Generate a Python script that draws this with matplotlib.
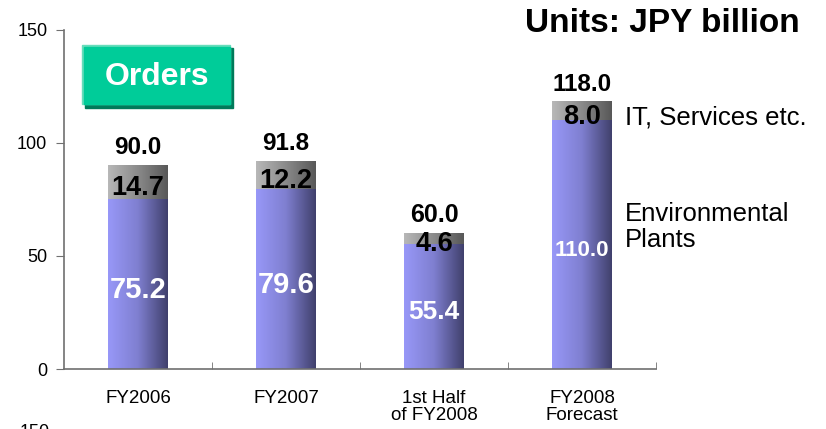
"""Orders chart: stacked bars by segment."""

import matplotlib.pyplot as plt
import numpy as np
from matplotlib.colors import LinearSegmentedColormap
from matplotlib.patches import Rectangle

plt.rcParams["font.family"] = ["Liberation Sans", "DejaVu Sans"]

categories = ["FY2006", "FY2007", "1st Half\nof FY2008", "FY2008\nForecast"]
env_plants = [75.2, 79.6, 55.4, 110.0]
it_services = [14.7, 12.2, 4.6, 8.0]
totals = [90.0, 91.8, 60.0, 118.0]

purple_cmap = LinearSegmentedColormap.from_list("purple", ["#9898f8", "#7f7fd0", "#40406c"])
gray_cmap = LinearSegmentedColormap.from_list("gray", ["#b8b8b8", "#8a8a8a", "#585858"])
gradient = np.linspace(0, 1, 256).reshape(1, -1)


def fill_gradient(axis, bars, cmap):
    """Phu gradient ngang len tung bar."""
    for bar in bars:
        x0, y0 = bar.get_x(), bar.get_y()
        axis.imshow(gradient, cmap=cmap, aspect="auto", interpolation="bilinear",
                    extent=(x0, x0 + bar.get_width(), y0, y0 + bar.get_height()), zorder=2)
        bar.set_visible(False)


figure = plt.figure(figsize=(8.26, 4.29), dpi=100)
axis = figure.add_axes([64 / 826, 60 / 429, 592 / 826, 339 / 429])

x = np.arange(len(categories))
width = 0.405
bottom_bars = axis.bar(x, env_plants, width=width)
top_bars = axis.bar(x, it_services, width=width, bottom=env_plants)
fill_gradient(axis, bottom_bars, purple_cmap)
fill_gradient(axis, top_bars, gray_cmap)

axis.set_xlim(-0.5, len(categories) - 0.5)
axis.set_ylim(0, 150)
axis.set_yticks([0, 50, 100, 150])
axis.set_xticks(x)
axis.set_xticklabels(categories, fontsize=13.5, linespacing=1.05)
axis.set_xticks(np.arange(len(categories)) + 0.5, minor=True)
axis.tick_params(axis="x", which="major", length=0, pad=15)
axis.tick_params(axis="x", which="minor", direction="in", length=5, color="#707070")
axis.tick_params(axis="y", direction="out", length=6, color="#707070", labelsize=13, pad=6)
for side in ("top", "right"):
    axis.spines[side].set_visible(False)
for side in ("left", "bottom"):
    axis.spines[side].set_color("#707070")
    axis.spines[side].set_linewidth(1.2)

inner_size = [21, 21, 19, 16]
total_size = [17.5, 17.5, 18, 17.5]
for i in range(len(categories)):
    axis.annotate(f"{env_plants[i]:.1f}", (x[i], env_plants[i] / 2), xytext=(0, -4),
                  textcoords="offset points", ha="center", va="center",
                  color="white", fontweight="bold", fontsize=inner_size[i], zorder=4)
    axis.annotate(f"{it_services[i]:.1f}", (x[i], env_plants[i] + it_services[i] / 2),
                  xytext=(0, -4), textcoords="offset points", ha="center", va="center",
                  fontweight="bold", fontsize=19.5, zorder=4)
    axis.annotate(f"{totals[i]:.1f}", (x[i], totals[i]), xytext=(0, 13),
                  textcoords="offset points", ha="center", va="center",
                  fontweight="bold", fontsize=total_size[i], zorder=4)

# khung "Orders"
figure.patches.append(Rectangle((85 / 826, 1 - 108 / 429), 148 / 826, 60 / 429,
                                transform=figure.transFigure, color="#007a5a", zorder=1))
figure.patches.append(Rectangle((82 / 826, 1 - 104 / 429), 148 / 826, 59 / 429,
                                transform=figure.transFigure, color="#66ddbb", zorder=2))
figure.patches.append(Rectangle((84 / 826, 1 - 104 / 429), 146 / 826, 57 / 429,
                                transform=figure.transFigure, color="#00cc99", zorder=3))
figure.text(157 / 826, 1 - 77 / 429, "Orders", ha="center", va="center", color="white",
            fontweight="bold", fontsize=23, zorder=5)

figure.text(800 / 826, 1 - 23 / 429, "Units: JPY billion", ha="right", va="center",
            fontweight="bold", fontsize=24)
figure.text(625 / 826, 1 - 117 / 429, "IT, Services etc.", ha="left", va="center", fontsize=18.5)
figure.text(625 / 826, 1 - 227 / 429, "Environmental\nPlants", ha="left", va="center",
            fontsize=18.5, linespacing=1.15)
figure.text(20 / 826, 1 - 424 / 429, "150", ha="left", va="top", fontsize=13)

figure.savefig("out.png", dpi=100)
